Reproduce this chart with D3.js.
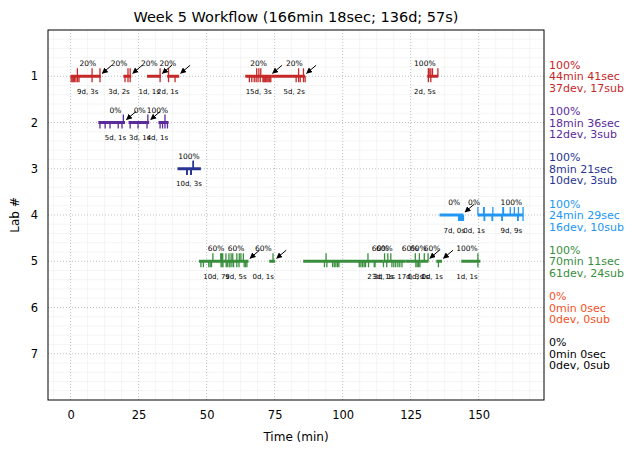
<!DOCTYPE html>
<html>
<head>
<meta charset="utf-8">
<script src="https://cdn.jsdelivr.net/npm/d3@7"></script>
<style>
  body { margin: 0; background: #fff; }
  text { font-family: "DejaVu Sans", sans-serif; }
</style>
</head>
<body>
<div class="canvas"></div>
<script>
// chart values
const labs = [1, 2, 3, 4, 5, 6, 7];
const labColors = ['#c62828', '#5b2a9e', '#283593', '#2196f3', '#388e3c', '#f4511e', '#000000'];
const summaryPct = ['100%', '100%', '100%', '100%', '100%', '0%', '0%'];
const summaryTime = ['44min 41sec', '18min 36sec', '8min 21sec', '24min 29sec', '70min 11sec', '0min 0sec', '0min 0sec'];
const summaryCounts = ['37dev, 17sub', '12dev, 3sub', '10dev, 3sub', '16dev, 10sub', '61dev, 24sub', '0dev, 0sub', '0dev, 0sub'];
const xTicks = [0, 25, 50, 75, 100, 125, 150];

// segments: [start, end, percent, counts, label time, arrow]
const lab1Segs = [
  [0, 11.1, '20%', '9d, 3s', 6.3, true],
  [19.4, 22.3, '20%', '3d, 2s', 17.8, true],
  [28.1, 33.2, '20%', '1d, 1s', 28.9, true],
  [35.5, 39.9, '20%', '2d, 1s', 35.7, true],
  [64.2, 73.7, '20%', '15d, 3s', 69.1, true],
  [73.7, 86.2, '20%', '5d, 2s', 82.2, true],
  [131.1, 135.1, '100%', '2d, 5s', 130.2, false]
];
const lab2Segs = [
  [10.2, 20.0, '0%', '5d, 1s', 16.5, true],
  [21.3, 28.9, '0%', '3d, 1s', 25.4, true],
  [32.3, 36.0, '100%', '4d, 1s', 31.9, false]
];
const lab3Segs = [
  [39.3, 47.9, '100%', '10d, 3s', 43.5, false]
];
const lab4Segs = [
  [135.6, 144.4, '0%', '7d, 0s', 141.0, true],
  [149.7, 149.7, '0%', '0d, 1s', 148.3, false],
  [149.7, 166.3, '100%', '9d, 9s', 162.0, false]
];
const lab5Segs = [
  [47.2, 57.2, '60%', '10d, 7s', 53.5, false],
  [57.2, 65.4, '60%', '9d, 5s', 60.8, true],
  [73.0, 75.2, '60%', '0d, 1s', 70.8, true],
  [85.5, 114.9, '60%', '23d, 1s', 113.8, false],
  [114.9, 123.0, '60%', '3d, 1s', 115.3, false],
  [123.0, 128.5, '60%', '17d, 3s', 124.8, false],
  [128.5, 131.5, '60%', '0d, 1s', 127.8, true],
  [134.4, 136.5, '60%', '0d, 1s', 132.9, true],
  [143.6, 150.6, '100%', '1d, 1s', 145.7, false]
];

// dev events (ticks below line) and sub events (ticks above line)
const lab1Devs = [0.2, 0.6, 1.0, 1.5, 2.0, 2.6, 3.1, 7.9, 10.8, 20.0, 21.1, 21.9, 32.9, 36.0, 38.4,
  65.7, 66.6, 67.5, 68.2, 68.9, 69.7, 70.7, 71.0, 71.4, 71.6, 72.1, 72.5, 72.9, 73.2, 73.6,
  82.9, 83.8, 84.4, 85.6, 86.2, 131.5, 132.4];
const lab1Subs = [2.5, 7.9, 10.8, 21.1, 21.9, 32.9, 36.0, 68.4, 69.2, 69.9, 83.8, 85.6,
  131.5, 131.8, 132.4, 133.0, 135.0];
const lab2Devs = [10.8, 12.7, 14.5, 17.5, 18.9, 21.9, 24.8, 28.1, 32.9, 33.8, 34.7, 35.6];
const lab2Subs = [19.4, 28.4, 34.7];
const lab3Devs = [42.7, 42.7, 42.7, 42.7, 42.7, 44.3, 44.3, 44.3, 44.3, 44.3];
const lab3Subs = [45.1, 45.1, 45.1];
const lab4Devs = [142.6, 143.0, 143.3, 143.7, 144.0, 144.2, 144.4,
  152.0, 154.9, 158.5, 164.3, 152.2, 155.1, 158.7, 164.5, 166.3];
const lab4Subs = [149.7, 151.8, 155.2, 158.9, 161.6, 163.1, 164.6, 166.3, 152.0, 159.1];
const lab5Devs = [47.9, 48.8, 50.8, 51.3, 51.8, 55.3, 55.7, 56.0, 57.2, 57.6, 58.3, 58.6, 59.3, 59.9,
  61.1, 61.9, 63.8, 64.3, 64.8,
  93.3, 94.2, 96.3, 96.9, 97.5, 98.1, 98.6, 106.1, 106.7, 107.3, 107.9, 108.4, 109.5, 111.6, 111.9,
  115.0, 116.2, 118.1, 118.8, 119.5, 120.3, 121.0, 121.8, 126.9, 127.4, 127.9, 128.4, 135.2, 149.7];
const lab5Subs = [52.3, 55.2, 55.5, 55.9, 57.1, 58.2, 59.0, 59.6, 61.1, 62.0, 62.6, 63.5, 74.4,
  93.9, 109.3, 115.4, 116.6, 117.7, 126.7, 128.2, 130.0, 131.4, 149.7];

const segsByLab = [lab1Segs, lab2Segs, lab3Segs, lab4Segs, lab5Segs, [], []];
const devsByLab = [lab1Devs, lab2Devs, lab3Devs, lab4Devs, lab5Devs, [], []];
const subsByLab = [lab1Subs, lab2Subs, lab3Subs, lab4Subs, lab5Subs, [], []];

const width = 634, height = 453;
const margin = { top: 30, right: 90, bottom: 53, left: 48 };
const graphWidth = width - margin.left - margin.right;
const graphHeight = height - margin.top - margin.bottom;

const svg = d3.select('.canvas')
  .append('svg')
    .attr('width', width)
    .attr('height', height);

const graph = svg.append('g')
  .attr('transform', `translate(${margin.left}, ${margin.top})`);

// scales
const x = d3.scaleLinear().domain([-8.3, 174]).range([0, graphWidth]);
const y = d3.scaleLinear().domain([0, 8]).range([0, graphHeight]);

// minor grid
const xMinor = d3.range(-6.25, 174, 6.25).filter(v => v % 25 !== 0);
const yMinor = d3.range(0.2, 8, 0.2).filter(v => Math.abs(v - Math.round(v)) > 0.01);
graph.append('g').selectAll('line').data(xMinor).enter().append('line')
  .attr('x1', d => x(d)).attr('x2', d => x(d))
  .attr('y1', 0).attr('y2', graphHeight)
  .attr('stroke', '#eeeeee').attr('stroke-width', 0.6);
graph.append('g').selectAll('line').data(yMinor).enter().append('line')
  .attr('x1', 0).attr('x2', graphWidth)
  .attr('y1', d => y(d)).attr('y2', d => y(d))
  .attr('stroke', '#eeeeee').attr('stroke-width', 0.6);

// major grid
graph.append('g').selectAll('line').data(xTicks).enter().append('line')
  .attr('x1', d => x(d)).attr('x2', d => x(d))
  .attr('y1', 0).attr('y2', graphHeight)
  .attr('stroke', '#b0b0b0').attr('stroke-width', 0.8).attr('stroke-dasharray', '1,2');
graph.append('g').selectAll('line').data(labs).enter().append('line')
  .attr('x1', 0).attr('x2', graphWidth)
  .attr('y1', d => y(d)).attr('y2', d => y(d))
  .attr('stroke', '#b0b0b0').attr('stroke-width', 0.8).attr('stroke-dasharray', '1,2');

// arrow marker
svg.append('defs').append('marker')
  .attr('id', 'head')
  .attr('viewBox', '0 0 10 10')
  .attr('refX', 9).attr('refY', 5)
  .attr('markerWidth', 6).attr('markerHeight', 6)
  .attr('markerUnits', 'userSpaceOnUse')
  .attr('orient', 'auto')
  .append('path')
    .attr('d', 'M0,0 L10,5 L0,10 z')
    .attr('fill', '#000');

labs.forEach((lab, i) => {
  const color = labColors[i];
  const g = graph.append('g');
  const ly = y(lab);

  // session lines
  g.selectAll('.seg').data(segsByLab[i]).enter().append('line')
    .attr('x1', d => x(d[0])).attr('x2', d => x(d[1]) + (d[1] === d[0] ? 0.5 : 0))
    .attr('y1', ly).attr('y2', ly)
    .attr('stroke', color).attr('stroke-width', 3);

  // devs below
  g.selectAll('.dev').data(devsByLab[i]).enter().append('line')
    .attr('x1', d => x(d)).attr('x2', d => x(d))
    .attr('y1', ly).attr('y2', ly + 6)
    .attr('stroke', color).attr('stroke-width', 1.3);

  // subs above
  g.selectAll('.sub').data(subsByLab[i]).enter().append('line')
    .attr('x1', d => x(d)).attr('x2', d => x(d))
    .attr('y1', ly).attr('y2', ly - 8)
    .attr('stroke', color).attr('stroke-width', 1.3);

  // labels
  g.selectAll('.pct').data(segsByLab[i]).enter().append('text')
    .attr('x', d => x(d[4])).attr('y', ly - 10)
    .attr('text-anchor', 'middle')
    .attr('font-size', 7.5)
    .text(d => d[2]);
  g.selectAll('.cnt').data(segsByLab[i]).enter().append('text')
    .attr('x', d => x(d[4])).attr('y', ly + 17.5)
    .attr('text-anchor', 'middle')
    .attr('font-size', 7)
    .text(d => d[3]);

  // arrows
  g.selectAll('.arrow').data(segsByLab[i].filter(d => d[5])).enter().append('line')
    .attr('x1', d => x(d[1]) + 11).attr('y1', ly - 11)
    .attr('x2', d => x(d[1]) + 1.5).attr('y2', ly - 3)
    .attr('stroke', '#000').attr('stroke-width', 1)
    .attr('marker-end', 'url(#head)');

  // summary on the right
  const sx = margin.left + graphWidth + 5;
  const st = svg.append('text')
    .attr('x', sx).attr('y', margin.top + ly)
    .attr('font-size', 11).attr('fill', color);
  [summaryPct[i], summaryTime[i], summaryCounts[i]].forEach((s, k) => {
    st.append('tspan').attr('x', sx).attr('y', margin.top + ly + (k - 1) * 11.5 + 4).text(s);
  });
});

// axes
const xAxis = d3.axisBottom(x).tickValues(xTicks).tickSize(0).tickPadding(11);
const yAxis = d3.axisLeft(y).tickValues(labs).tickSize(0).tickPadding(10);

const xAxisGroup = graph.append('g')
  .attr('transform', `translate(0, ${graphHeight})`)
  .call(xAxis);
const yAxisGroup = graph.append('g').call(yAxis);
[xAxisGroup, yAxisGroup].forEach(a => {
  a.select('.domain').remove();
  a.selectAll('text').attr('font-size', 11.5).attr('fill', '#000')
    .attr('font-family', '"DejaVu Sans", sans-serif');
});

graph.append('rect')
  .attr('width', graphWidth).attr('height', graphHeight)
  .attr('fill', 'none').attr('stroke', '#000').attr('stroke-width', 1);

// titles
svg.append('text')
  .attr('x', margin.left + graphWidth / 2).attr('y', 22)
  .attr('text-anchor', 'middle').attr('font-size', 14.5)
  .text('Week 5 Workflow (166min 18sec; 136d; 57s)');
svg.append('text')
  .attr('x', margin.left + graphWidth / 2).attr('y', 441)
  .attr('text-anchor', 'middle').attr('font-size', 12)
  .text('Time (min)');
svg.append('text')
  .attr('transform', `translate(19, ${margin.top + graphHeight / 2}) rotate(-90)`)
  .attr('text-anchor', 'middle').attr('font-size', 12)
  .text('Lab #');
</script>
</body>
</html>
